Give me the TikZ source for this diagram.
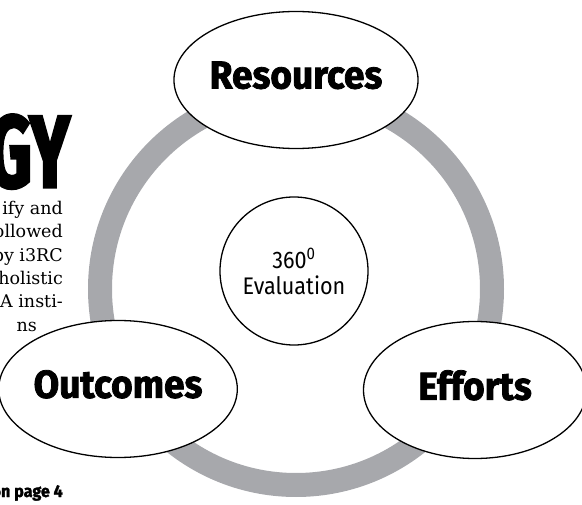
\documentclass[tikz,border=0pt]{standalone}
\usepackage{fontspec}
\setmainfont{DejaVu Serif}
\setsansfont{Fira Sans}
\newfontfamily\kopf{Fira Sans}[FakeStretch=0.95, FakeBold=2]
\newfontfamily\riesig{Fira Sans}[FakeStretch=0.66, FakeBold=3]
\newfontfamily\mittefont{Fira Sans}[FakeStretch=0.9]
\usetikzlibrary{calc,shapes.geometric}
\definecolor{Ringgrau}{RGB}{167,168,172}

\begin{document}
\begin{tikzpicture}[x=1pt, y=-1pt,
  Blase/.style={draw, ellipse, line width=1.3pt, fill=white, inner sep=0pt, minimum width=223pt, minimum height=137pt, text depth=10pt, font=\kopf\bfseries\fontsize{39}{39}\selectfont},
  Zeile/.style={anchor=base east, inner sep=0pt, font=\fontsize{17.5}{17.5}\selectfont}]
\useasboundingbox (0,0) rectangle (582,505);
\coordinate (m) at (296,289);
\draw[Ringgrau, line width=24pt] (m) circle (196pt);
\node (mitte) at ($(m) + (-2,-18)$) [draw, circle, line width=1.3pt, fill=white, minimum size=148pt, inner sep=0pt, align=center, font=\mittefont\fontsize{24}{26}\selectfont] {360\textsuperscript{0}\\Evaluation};
\node (res) at ($(m) + (0,-209)$) [Blase] {Resources};
\node (out) at ($(m) + (-178,100)$) [Blase] {Outcomes};
\node (eff) at ($(m) + (179,101)$) [Blase] {Efforts};
% Zeitungsrest links
\node (gy) at (70,187) [anchor=base east, inner sep=0pt, font=\riesig\bfseries\fontsize{102}{102}\selectfont] {GY};
\node (z1) at (63,215) [Zeile] {ify and};
\node (z2) at (63,238) [Zeile] {ollowed};
\node (z3) at (63,262) [Zeile] {by i3RC};
\node (z4) at (63,285) [Zeile] {holistic};
\node (z5) at (63,308) [Zeile] {A insti-};
\node (z6) at (37,332) [Zeile] {ns};
\node (seite) at (63,497) [anchor=base east, inner sep=0pt, font=\kopf\bfseries\fontsize{17}{17}\selectfont] {on page 4};
\end{tikzpicture}
\end{document}
